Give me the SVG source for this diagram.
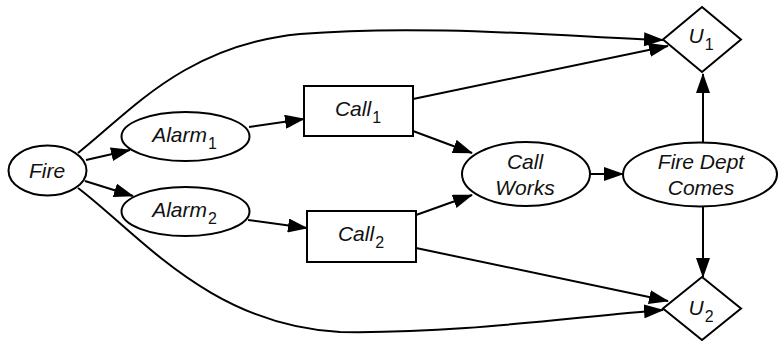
<svg xmlns="http://www.w3.org/2000/svg" width="779" height="341" viewBox="0 0 779 341">
<defs>
<marker id="ah" markerUnits="userSpaceOnUse" markerWidth="20" markerHeight="14" viewBox="0 0 20 14" refX="19" refY="7" orient="auto">
<path d="M0,0 L20,7 L0,14 z" fill="#000"/>
</marker>
<style>
.n{fill:#fff;stroke:#000;stroke-width:2}
.e{fill:none;stroke:#000;stroke-width:2;marker-end:url(#ah)}
text{font-family:"Liberation Sans",Arial,Helvetica,sans-serif;font-style:italic;font-size:21px;fill:#111;text-anchor:middle}
.s{font-size:16px;font-style:normal}
</style>
</defs>
<rect width="779" height="341" fill="#fff"/>
<g id="connectors">
<path class="e" d="M86,160 L130,150"/>
<path class="e" d="M85,181 L133,196"/>
<path class="e" d="M249,127 L304,119"/>
<path class="e" d="M248,220 L307,228"/>
<path class="e" d="M413,131 L472,153"/>
<path class="e" d="M416,215 L472,195"/>
<path class="e" d="M413,99 L668,46"/>
<path class="e" d="M416,248 L668,301"/>
<path class="e" d="M590,174 L623,174"/>
<path class="e" d="M703,142 L703,74"/>
<path class="e" d="M703,207 L703,277"/>
<path class="e" d="M78,153 C130,112 185,45 300,34 C420,24 560,36 663,40"/>
<path class="e" d="M78,188 C140,235 210,325 340,332 C460,334 580,316 663,310"/>
</g>
<g id="fire">
<ellipse class="n" cx="47.5" cy="170.5" rx="39" ry="25"/>
<text x="47" y="178">Fire</text>
</g>
<g id="alarm1">
<ellipse class="n" cx="185.5" cy="136.5" rx="64" ry="24.5"/>
<text x="184.5" y="142">Alarm<tspan class="s" dx="1" dy="7">1</tspan></text>
</g>
<g id="alarm2">
<ellipse class="n" cx="185.5" cy="211.5" rx="64" ry="24.5"/>
<text x="184.5" y="217">Alarm<tspan class="s" dx="1" dy="7">2</tspan></text>
</g>
<g id="call1">
<rect class="n" x="304" y="86" width="109" height="50"/>
<text x="358" y="116">Call<tspan class="s" dx="1" dy="7">1</tspan></text>
</g>
<g id="call2">
<rect class="n" x="307" y="211" width="109" height="51"/>
<text x="361" y="241">Call<tspan class="s" dx="1" dy="7">2</tspan></text>
</g>
<g id="callworks">
<ellipse class="n" cx="526" cy="174" rx="64" ry="32"/>
<text x="525" y="169">Call</text>
<text x="525" y="195">Works</text>
</g>
<g id="firedept">
<ellipse class="n" cx="700" cy="174.5" rx="77" ry="32"/>
<text x="701" y="169">Fire Dept</text>
<text x="701" y="195">Comes</text>
</g>
<g id="u1">
<polygon class="n" points="702,7 741,39.5 702,72 663,39.5"/>
<text x="701" y="43">U<tspan class="s" dx="1" dy="7">1</tspan></text>
</g>
<g id="u2">
<polygon class="n" points="702,277 741,308.5 702,340 663,308.5"/>
<text x="701" y="315">U<tspan class="s" dx="1" dy="7">2</tspan></text>
</g>
</svg>
